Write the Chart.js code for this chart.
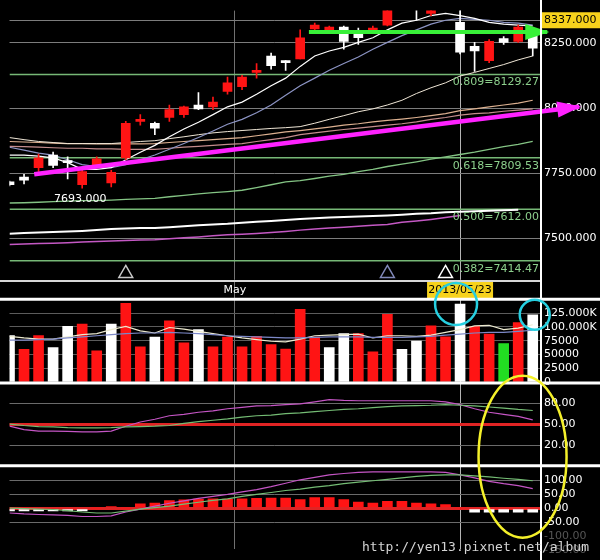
<!DOCTYPE html>
<html>
<head>
<meta charset="utf-8">
<script src="https://cdn.jsdelivr.net/npm/chart.js@4.4.0/dist/chart.umd.min.js"></script>
<style>
  html, body { margin: 0; padding: 0; background: #000; }
  canvas { display: block; }
</style>
</head>
<body>
<canvas id="stockChart" width="600" height="560"></canvas>
<script>
// daily candles, oldest first (27..30 run above the visible price range)
const openPx  = [7717,7735,7772,7820,7798,7706,7783,7713,7809,7949, 7942,7964,7975,8012,8005,8064,8082,8137,8200,8182,
                 8189,8304,8296,8311,8285,8292,8318,8400,8450,8363, 8430,8329,8237,8182,8267,8256,8289];
const closePx = [7706,7724,7809,7780,7791,7757,7805,7754,7942,7957, 7923,7994,8005,7997,8023,8097,8119,8145,8163,8174,
                 8270,8318,8311,8256,8270,8307,8392,8440,8410,8420, 8460,8215,8219,8256,8252,8311,8230];
const highPx  = [7720,7746,7824,7831,7813,7768,7813,7761,7949,7975, 7946,8012,8008,8060,8042,8119,8126,8171,8211,8182,
                 8300,8326,8315,8315,8307,8315,8410,8452,8462,8430, 8470,8392,8252,8263,8274,8318,8300];
const lowPx   = [7702,7709,7757,7772,7728,7693,7776,7698,7802,7935, 7898,7949,7964,7994,7994,8053,8071,8115,8149,8145,
                 8189,8300,8292,8226,8244,8289,8315,8390,8337,8355, 8400,8208,8141,8174,8244,8252,8200];

// moving averages on the price panel
const ma5  = [7820,7820,7816,7809,7791,7765,7765,7772,7802,7831, 7857,7890,7920,7946,7975,8005,8023,8053,8086,8115,
              8160,8200,8219,8233,8252,8270,8300,8326,8337,8355, 8363,8355,8344,8329,8322,8318,8315];
const ma10 = [7850,7839,7827,7820,7802,7783,7776,7772,7783,7802, 7820,7842,7864,7887,7912,7938,7957,7982,8012,8049,
              8086,8115,8145,8171,8196,8226,8252,8278,8300,8322, 8337,8344,8340,8337,8329,8326,8318];
const ma20 = [7887,7879,7872,7868,7864,7864,7864,7864,7868,7872, 7875,7883,7890,7898,7905,7910,7914,7918,7922,7925,
              7929,7942,7957,7971,7986,7997,8012,8030,8056,8078, 8097,8123,8137,8152,8167,8185,8200];
const maTan = [7872,7870,7868,7866,7864,7864,7863,7863,7863,7863, 7864,7868,7872,7875,7879,7883,7887,7894,7901,7909,
               7914,7920,7927,7935,7940,7947,7953,7958,7964,7971, 7979,7990,7997,8005,8012,8019,8030];
const maPink = [7853,7852,7850,7848,7846,7846,7844,7844,7842,7842, 7842,7846,7850,7853,7857,7861,7864,7872,7879,7887,
                7898,7905,7912,7918,7923,7929,7935,7940,7947,7957, 7964,7973,7979,7982,7988,7992,7997];
const maGreen = [7636,7637,7639,7641,7643,7645,7645,7647,7650,7652, 7654,7660,7665,7671,7676,7680,7685,7695,7706,7717,
                 7722,7730,7739,7746,7756,7765,7776,7785,7794,7804, 7813,7822,7831,7842,7852,7861,7872];
const maLongWhite = [7518,7521,7523,7525,7527,7529,7532,7536,7538,7540, 7540,7543,7547,7551,7554,7556,7560,7564,7567,7571,
                     7575,7578,7580,7582,7584,7586,7588,7591,7595,7597, 7601,7602,7604,7606,7608,7610,null];
const maLongPurple = [7477,7479,7481,7482,7484,7486,7488,7490,7492,7494, 7495,7499,7503,7506,7510,7514,7516,7519,7523,7527,
                      7532,7536,7540,7543,7547,7551,7554,7562,7567,7573, 7580,7588,null,null,null,null,null];

// golden ratio levels
const fibLevels = [8129.27, 7809.53, 7612.00, 7414.47];
const fibRatios = ['0.809', '0.618', '0.500', '0.382'];

// hand drawn trend line and resistance arrow (x in sessions, y in price)
const trendX = [1.7, 39.2];
const trendY = [7746, 8005];
const resistX = [20.6, 37.0];
const resistY = [8292, 8292];

// hollow triangle signals under the candles
const signalIdx = [8, 26, 30];
const signalPrice = 7366;
const signalColors = ['#c8c8c8', '#8088b8', '#ffffff'];

const priceTicks = [7500, 7750, 8000, 8250];
const markPrice = 8337;
const monthStart = 15.5, monthLabel = 'May';
const markedDay = 31, markedDayLabel = '2013/05/23';

// volume
const volume = [84500,59500,84500,62500,101000,105000,56500,105000,143000,64000, 81500,111000,71000,95000,64000,81500,64000,83000,68000,60000,
                132000,81500,62500,88000,88000,55000,123000,59500,74500,102000, 82000,141500,101000,87000,70000,108000,122000];
const volKind = ['w','r','r','w','w','r','r','w','r','r', 'w','r','r','w','r','r','r','r','r','r',
                 'r','r','w','w','r','r','r','w','w','r', 'r','w','r','r','g','r','w'];
const volMa5 = [83000,80000,78000,78000,82000,86000,88000,95000,101000,93000, 89000,99000,96000,92000,88000,84000,80000,77000,74000,73000,
                78000,84000,85000,86000,87000,80000,84000,84000,83000,85000, 90000,95000,102000,103000,95000,98000,104000];
const volMa20 = [76000,76000,77000,78000,80000,82000,84000,86000,88000,89000, 89000,90000,89000,88000,86000,84000,83000,82000,81000,80000,
                 80000,81000,82000,82000,82000,81000,81000,81000,82000,83000, 85000,87000,89000,90000,90000,92000,94000];
const volTicks = [0, 25000, 50000, 75000, 100000, 125000];
const circledBars = [31, 36];

// KD style oscillator
const oscK = [47,42,40,40,39.5,39,39,40,47,53, 57,62,64,67,69,72,74,76,76.5,78,
              79,82,85,84,83.5,83.5,83.5,83.5,83.5,83.5, 82,78,72,67,64,61,56];
const oscD = [50,48,46.5,46,45,44.5,44.5,45,46,46.5, 47,48,51,53.5,55.5,57.5,60,62,63,65,
              66,68,69.5,71,72,73.5,75,76,76.5,77, 78,77,76,74.5,73,71,69.5];
const oscTicks = [20, 50, 80];

// MACD
const macdDif = [-17.5,-21,-23,-24.5,-26,-30,-30,-28,-14,-3.5, 7,17.5,26,35,42,49,58,66.5,77,89,
                 101.5,110,119,124,128,129.5,129.5,129.5,129.5,129.5, 128,119,108.5,96,87.5,80.5,70];
const macdSig = [0,-2,-3.5,-5,-9,-14,-17.5,-17.5,-10.5,-3.5, 2,7,14,21,28,33,42,49,56,63,
                 68,75,80.5,87.5,93,98,103,108.5,114,117, 119,119,115.5,112,107,103,98];
const macdHist = [-10,-10,-10,-10,-10,-10,0,5,0,15, 18,27,30,32,33,32,33,35,36,36,
                  31,38,38,31,22,18,24,24,18,15, 13,0,-15,-15,-15,-15,-15];
const macdTicks = [-150, -100, -50, 0, 50, 100];

const X_MIN = 0, X_MAX = 36.5;
const FONT = '11px "DejaVu Sans"';
const TAG_YELLOW = '#f7d21c';
const RED = '#ff1414';

Chart.defaults.font.family = 'DejaVu Sans';
Chart.defaults.font.size = 11;
Chart.defaults.color = '#ffffff';

const pts = arr => arr.map((v, i) => ({x: i, y: v}));
const candleColor = closePx.map((c, i) => c > openPx[i] ? RED : '#ffffff');
const volColors = {r: RED, w: '#ffffff', g: '#22dd22'};

function line(data, color, width, axis, order) {
  return {
    type: 'line', data: data, borderColor: color, borderWidth: width,
    pointRadius: 0, tension: 0, yAxisID: axis, order: order, spanGaps: false
  };
}

const datasets = [
  // drawn trend line and resistance arrow
  Object.assign(line(trendX.map((x, i) => ({x: x, y: trendY[i]})), '#ff22ff', 4.5, 'yPrice', 0), {clip: false, arrowHead: true}),
  Object.assign(line(resistX.map((x, i) => ({x: x, y: resistY[i]})), '#38f038', 4, 'yPrice', 0), {clip: false, arrowHead: true}),
  {
    type: 'line', data: signalIdx.map(i => ({x: i, y: signalPrice})), showLine: false, yAxisID: 'yPrice', order: 0,
    pointStyle: 'triangle', pointRadius: 8, pointBorderWidth: 1.5,
    pointBorderColor: signalColors, pointBackgroundColor: 'rgba(0,0,0,0)'
  },
  // candles: body and wick
  {
    type: 'bar', yAxisID: 'yPrice', order: 1, grouped: false,
    data: openPx.map((o, i) => ({x: i, y: [o, closePx[i]]})),
    backgroundColor: candleColor, barThickness: 9, maxBarThickness: 9, minBarLength: 2, borderWidth: 0
  },
  {
    type: 'bar', yAxisID: 'yPrice', order: 2, grouped: false,
    data: lowPx.map((l, i) => ({x: i, y: [l, highPx[i]]})),
    backgroundColor: candleColor, barThickness: 1, maxBarThickness: 1, borderWidth: 0
  },
  line(pts(ma5), '#ffffff', 1.2, 'yPrice', 3),
  line(pts(ma10), '#8c94c4', 1.2, 'yPrice', 3),
  line(pts(ma20), '#efe6d6', 1, 'yPrice', 3),
  line(pts(maTan), '#dcb090', 1.2, 'yPrice', 3),
  line(pts(maPink), '#c48c8c', 1.2, 'yPrice', 3),
  line(pts(maGreen), '#84c484', 1.3, 'yPrice', 3),
  line(pts(maLongWhite), '#ffffff', 2, 'yPrice', 3),
  line(pts(maLongPurple), '#c458c4', 1.5, 'yPrice', 3),
  ...fibLevels.map(lv => line([{x: X_MIN, y: lv}, {x: X_MAX, y: lv}], '#76b876', 1.5, 'yPrice', 4)),

  // volume
  {
    type: 'bar', yAxisID: 'yVol', order: 1, grouped: false, data: pts(volume),
    backgroundColor: volKind.map(k => volColors[k]), barThickness: 10, maxBarThickness: 10, borderWidth: 0
  },
  line(pts(volMa20), '#7c88c8', 1.2, 'yVol', 0),
  line(pts(volMa5), '#ecead0', 1.2, 'yVol', 0),

  // oscillator
  line(pts(oscD), '#74bc74', 1.2, 'yOsc', 0),
  line(pts(oscK), '#c455c4', 1.2, 'yOsc', 0),

  // MACD
  {
    type: 'bar', yAxisID: 'yMacd', order: 1, grouped: false, data: pts(macdHist),
    backgroundColor: macdHist.map(v => v >= 0 ? RED : '#ffffff'), barThickness: 10, maxBarThickness: 10, borderWidth: 0
  },
  line(pts(macdSig), '#74bc74', 1.2, 'yMacd', 0),
  line(pts(macdDif), '#c455c4', 1.2, 'yMacd', 0)
];

const fixedTicks = list => scale => { scale.ticks = list.map(v => ({value: v})); };
const axisWidth = scale => { scale.width = 60; };

function panelAxis(weight, min, max, ticks, extra) {
  return Object.assign({
    type: 'linear', position: 'right', stack: 'panels', stackWeight: weight, min: min, max: max,
    afterBuildTicks: fixedTicks(ticks), afterFit: axisWidth,
    border: {display: false},
    grid: {drawTicks: false, color: '#5c5c5c'},
    ticks: {padding: 4, autoSkip: false, color: '#ffffff', font: {size: 11}}
  }, extra);
}

const overlay = {
  id: 'overlay',
  beforeDraw(chart) {
    const {ctx, width, height} = chart;
    const yP = chart.scales.yPrice;
    ctx.save();
    ctx.fillStyle = '#000';
    ctx.fillRect(0, 0, width, height);
    // yellow tag behind the marked price
    const ty = yP.getPixelForValue(markPrice);
    ctx.fillStyle = TAG_YELLOW;
    ctx.fillRect(yP.left + 2, ty - 8, yP.right - yP.left - 2, 16);
    ctx.restore();
  },
  beforeDatasetsDraw(chart) {
    const {ctx} = chart;
    const x = chart.scales.x, s = chart.scales.yStrip;
    const mid = (s.top + s.bottom) / 2;
    ctx.save();
    ctx.font = FONT;
    ctx.textAlign = 'center';
    ctx.textBaseline = 'middle';
    const dx = x.getPixelForValue(markedDay);
    ctx.fillStyle = TAG_YELLOW;
    ctx.fillRect(dx - 33, s.top, 66, s.bottom - s.top);
    ctx.fillStyle = '#000';
    ctx.fillText(markedDayLabel, dx, mid);
    ctx.fillStyle = '#fff';
    ctx.fillText(monthLabel, x.getPixelForValue(monthStart), mid);
    ctx.restore();
  },
  afterDatasetsDraw(chart) {
    const {ctx, chartArea} = chart;
    const x = chart.scales.x, yP = chart.scales.yPrice;
    ctx.save();
    ctx.font = FONT;
    ctx.textBaseline = 'middle';
    // captions under the golden ratio levels
    ctx.fillStyle = '#8ccf8c';
    ctx.textAlign = 'right';
    fibLevels.forEach((lv, k) => {
      ctx.fillText(fibRatios[k] + '=' + lv.toFixed(2), chartArea.right - 1, yP.getPixelForValue(lv) + 8);
    });
    // lowest low caption
    const lo = Math.min(...lowPx);
    const li = lowPx.indexOf(lo);
    ctx.fillStyle = '#fff';
    ctx.textAlign = 'center';
    ctx.fillText(lo.toFixed(3), x.getPixelForValue(li) - 2, yP.getPixelForValue(lo) + 11);
    // arrow heads at the end of the drawn lines
    chart.data.datasets.forEach((ds, i) => {
      if (!ds.arrowHead) return;
      const p = chart.getDatasetMeta(i).data;
      const a = p[p.length - 2], b = p[p.length - 1];
      const ang = Math.atan2(b.y - a.y, b.x - a.x);
      const c = Math.cos(ang), s = Math.sin(ang);
      ctx.fillStyle = ds.borderColor;
      ctx.beginPath();
      ctx.moveTo(b.x + 2 * c, b.y + 2 * s);
      ctx.lineTo(b.x - 22 * c + 8 * s, b.y - 22 * s - 8 * c);
      ctx.lineTo(b.x - 22 * c - 8 * s, b.y - 22 * s + 8 * c);
      ctx.closePath();
      ctx.fill();
    });
    ctx.restore();
  },
  afterDraw(chart) {
    const {ctx, chartArea, width, height} = chart;
    const sc = chart.scales;
    ctx.save();
    // panel separators
    ctx.strokeStyle = '#d8d8d8';
    ctx.lineWidth = 2;
    ctx.beginPath();
    ctx.moveTo(0, sc.yPrice.bottom);
    ctx.lineTo(chartArea.right, sc.yPrice.bottom);
    ctx.stroke();
    ctx.strokeStyle = '#ffffff';
    ctx.lineWidth = 3;
    [sc.yStrip.bottom, sc.yVol.bottom, sc.yOsc.bottom].forEach(y => {
      ctx.beginPath();
      ctx.moveTo(0, y);
      ctx.lineTo(width, y);
      ctx.stroke();
    });
    ctx.lineWidth = 2;
    ctx.beginPath();
    ctx.moveTo(chartArea.right + 1, 0);
    ctx.lineTo(chartArea.right + 1, height);
    ctx.stroke();

    // cyan circles on the marked volume bars
    ctx.strokeStyle = '#26cfe0';
    ctx.lineWidth = 2.5;
    circledBars.forEach((i, k) => {
      ctx.beginPath();
      ctx.arc(sc.x.getPixelForValue(i) + (k ? 2 : -4), sc.yVol.getPixelForValue(volume[i]), k ? 15 : 21, 0, Math.PI * 2);
      ctx.stroke();
    });

    // yellow ellipse over the last oscillator readings
    ctx.strokeStyle = '#f4f02a';
    ctx.beginPath();
    ctx.ellipse(sc.x.getPixelForValue(35.3), sc.yOsc.bottom - 9, 44, 81, 0, 0, Math.PI * 2);
    ctx.stroke();

    // watermark
    ctx.font = '13px "DejaVu Sans Mono"';
    ctx.fillStyle = '#d4d4d4';
    ctx.textAlign = 'right';
    ctx.textBaseline = 'middle';
    ctx.fillText('http://yen13.pixnet.net/album', 589, 548);
    ctx.restore();
  }
};

new Chart(document.getElementById('stockChart'), {
  data: {datasets: datasets},
  options: {
    responsive: false,
    animation: false,
    events: [],
    layout: {padding: 0},
    plugins: {legend: {display: false}, tooltip: {enabled: false}},
    scales: {
      x: {
        type: 'linear', position: 'bottom', min: X_MIN, max: X_MAX, offset: false,
        afterBuildTicks: fixedTicks([monthStart, markedDay]),
        afterFit: scale => { scale.height = 0; },
        ticks: {display: false},
        border: {display: false},
        grid: {offset: false, drawTicks: false, color: c => c.tick && c.tick.value === markedDay ? '#b4b4b4' : '#707070'}
      },
      yPrice: panelAxis(281, 7337, 8374, priceTicks.concat([markPrice]), {
        grid: {drawTicks: false, color: '#7c7c7c'},
        ticks: {
          padding: 4, autoSkip: false,
          color: c => c.tick && c.tick.value === markPrice ? '#000' : '#fff',
          callback: v => v.toFixed(3)
        }
      }),
      yStrip: {
        type: 'linear', position: 'right', stack: 'panels', stackWeight: 19, min: 0, max: 1,
        afterFit: axisWidth, ticks: {display: false}, grid: {display: false}, border: {display: false}
      },
      yVol: panelAxis(87, -1700, 150300, volTicks, {
        ticks: {
          padding: 4, autoSkip: false, color: '#fff',
          callback: v => v >= 100000 ? (v / 1000).toFixed(3) + 'K' : String(v)
        }
      }),
      yOsc: panelAxis(86, -9.6, 109, oscTicks, {
        grid: {
          drawTicks: false,
          color: c => c.tick && c.tick.value === 50 ? '#e02424' : '#6a6a6a',
          lineWidth: c => c.tick && c.tick.value === 50 ? 3 : 1
        },
        ticks: {padding: 4, autoSkip: false, color: '#fff', callback: v => v.toFixed(2)}
      }),
      yMacd: panelAxis(87, -148, 152, macdTicks, {
        grid: {
          drawTicks: false,
          color: c => !c.tick ? '#6a6a6a' : c.tick.value === 0 ? '#e02424' : c.tick.value < -50 ? 'rgba(0,0,0,0)' : '#6a6a6a',
          lineWidth: c => c.tick && c.tick.value === 0 ? 3 : 1
        },
        ticks: {
          padding: 4, autoSkip: false,
          color: c => c.tick && c.tick.value < -50 ? '#555' : '#fff',
          callback: v => v.toFixed(2)
        }
      })
    }
  },
  plugins: [overlay]
});
</script>
</body>
</html>
